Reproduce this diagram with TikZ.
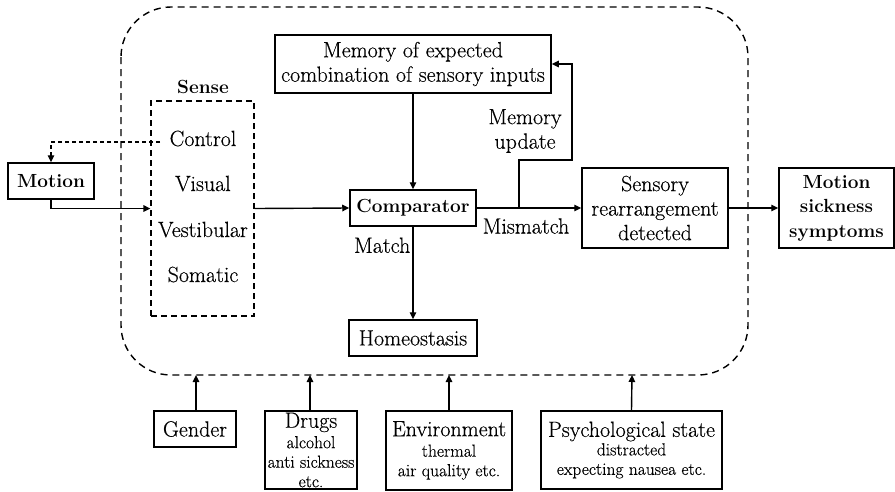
\documentclass[tikz,border=0pt]{standalone}
\usepackage{fontspec}
\setmainfont{Latin Modern Roman}[UprightFeatures={FakeBold=0.35}]
\usetikzlibrary{arrows.meta}
\newcommand{\mainsize}{\fontsize{22}{24.5}\selectfont}
\newcommand{\boldsize}{\fontsize{19}{24.5}\selectfont\bfseries}
\newcommand{\subsize}{\fontsize{17.5}{19.5}\selectfont}
\begin{document}
\begin{tikzpicture}[x=1pt,y=-1pt,
  box/.style={draw, line width=1.5pt, inner sep=0pt, align=center, font=\mainsize},
  lbl/.style={inner sep=0pt, align=center, font=\mainsize},
  conn/.style={line width=1.4pt, -{Triangle[length=7pt,width=6.5pt]}}]
\useasboundingbox (0,0) rectangle (895,491);

% region of internal processing
\draw[line width=1.4pt, dash pattern=on 7pt off 5pt, rounded corners=50pt]
  (121,7) rectangle (748,375);

% sense organs
\node[draw, line width=1.3pt, dash pattern=on 6pt off 4pt, minimum width=103pt,
      minimum height=215pt, inner sep=0pt] (sense) at (202.5,208.5) {};
\node[lbl, anchor=base, font=\boldsize] (senselbl) at (203,93) {Sense};
\node[lbl, anchor=base] (control) at (203,146) {Control};
\node[lbl, anchor=base] (visual) at (203,191) {Visual};
\node[lbl, anchor=base] (vestib) at (203,237) {Vestibular};
\node[lbl, anchor=base] (somatic) at (203,282) {Somatic};

% main blocks
\node[box, minimum width=86pt, minimum height=36pt, font=\boldsize] (motion) at (51,181) {Motion};
\node[box, minimum width=276pt, minimum height=58pt] (memory) at (413,64)
  {Memory of expected\\combination of sensory inputs};
\node[box, minimum width=126pt, minimum height=36pt, font=\boldsize] (comp) at (413,208) {Comparator};
\node[box, minimum width=128pt, minimum height=36pt] (homeo) at (413,338) {Homeostasis};
\node[box, minimum width=146pt, minimum height=80pt] (sensory) at (655,208)
  {Sensory\\rearrangement\\detected};
\node[box, minimum width=115pt, minimum height=80pt, font=\boldsize] (sick) at (836.5,208)
  {Motion\\sickness\\symptoms};

% influencing factors
\node[box, minimum width=82pt, minimum height=36pt] (gender) at (195,429) {Gender};
\node[box, minimum width=92pt, minimum height=78pt, font=\subsize] (drugs) at (311,450)
  {{\mainsize Drugs}\\[1pt]alcohol\\anti sickness\\etc.};
\node[box, minimum width=126pt, minimum height=79pt, font=\subsize] (env) at (449,450.5)
  {{\mainsize Environment}\\[1pt]thermal\\air quality etc.};
\node[box, minimum width=181pt, minimum height=78pt, font=\subsize] (psych) at (631.5,450)
  {{\mainsize Psychological state}\\[-1pt]distracted\\expecting nausea etc.};

% connection points on the dashed boundary
\coordinate (bg) at (196,375);
\coordinate (bd) at (310,375);
\coordinate (be) at (449,375);
\coordinate (bp) at (632,375);
\coordinate (ctl) at (160,142);
\coordinate (branch) at (519,208);
\coordinate (turn) at (572,160);

% connectors
\draw[conn, line width=1.2pt, dash pattern=on 4pt off 3pt] (ctl) -| (motion.north);
\draw[conn] (motion.south) |- (sense.west);
\draw[conn] (sense.east) -- (comp.west);
\draw[conn] (memory.south) -- (comp.north);
\draw[conn] (comp.south) -- node[lbl, anchor=east, pos=0.2, xshift=-2pt] (matchlbl) {Match} (homeo.north);
\draw[conn] (comp.east) -- (sensory.west);
\node[lbl] (mismatch) at (526,226) {Mismatch};
\draw[conn] (branch) |- (turn) |- (memory.east);
\node[lbl] (memupd) at (525,131) {Memory\\update};
\draw[conn] (sensory.east) -- (sick.west);

\draw[conn] ([xshift=1pt]gender.north) -- (bg);
\draw[conn] ([xshift=-1pt]drugs.north) -- (bd);
\draw[conn] (env.north) -- (be);
\draw[conn] (psych.north) -- (bp);
\end{tikzpicture}
\end{document}
